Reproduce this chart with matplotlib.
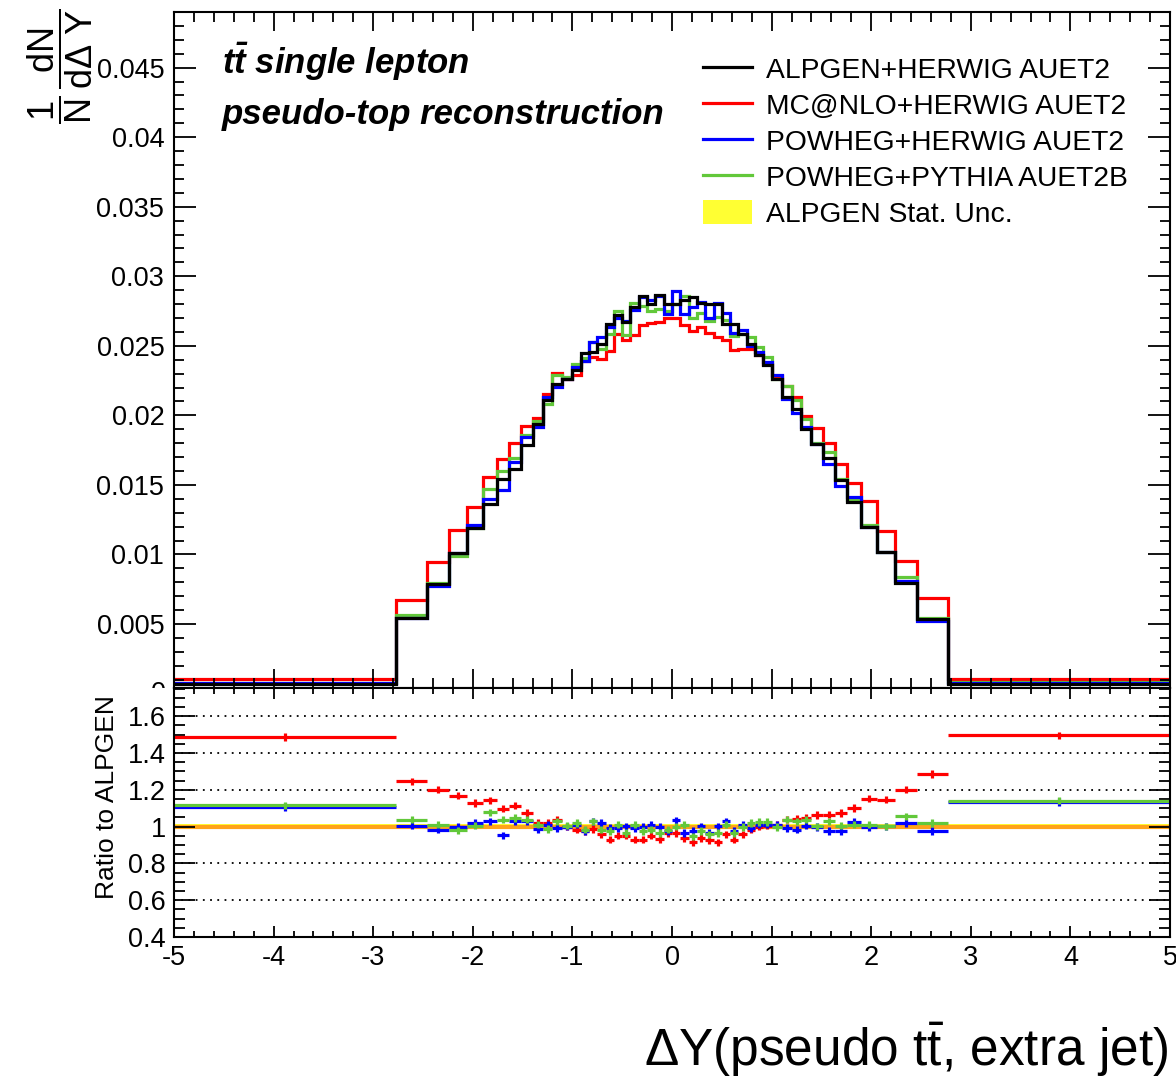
import numpy as np
import matplotlib
matplotlib.use("Agg")
import matplotlib.pyplot as plt
from matplotlib.lines import Line2D
from matplotlib.patches import Patch
from matplotlib.ticker import MultipleLocator, FuncFormatter
from matplotlib.transforms import Bbox, TransformedBbox, blended_transform_factory

plt.rcParams["font.family"] = ["Liberation Sans", "DejaVu Sans"]
plt.rcParams["axes.unicode_minus"] = False
plt.rcParams["mathtext.fontset"] = "custom"
plt.rcParams["mathtext.rm"] = "Liberation Sans"
plt.rcParams["mathtext.it"] = "Liberation Sans:italic"
plt.rcParams["mathtext.bf"] = "Liberation Sans:bold"
HAS_BFIT = "mathtext.bfit" in plt.rcParams
if HAS_BFIT:
    plt.rcParams["mathtext.bfit"] = "Liberation Sans:italic:bold"

# ---------------------------------------------------------------- data
bin_edges = [
    -5.0, -2.77, -2.46, -2.24, -2.06, -1.9, -1.76, -1.64, -1.52, -1.4, -1.3,
    -1.2, -1.1, -1.0, -0.917, -0.833, -0.75, -0.667, -0.583, -0.5, -0.417,
    -0.333, -0.25, -0.167, -0.083, 0.0, 0.083, 0.167, 0.25, 0.333, 0.417,
    0.5, 0.583, 0.667, 0.75, 0.833, 0.917, 1.0, 1.1, 1.2, 1.3, 1.4, 1.52,
    1.64, 1.76, 1.9, 2.06, 2.24, 2.46, 2.77, 5.0,
]

# ALPGEN+HERWIG AUET2, fraction of events per bin
alpgen = [
    0.00070, 0.00541, 0.00787, 0.01008, 0.01187, 0.01362, 0.01539, 0.01618,
    0.01790, 0.01941, 0.02108, 0.02223, 0.02264, 0.02324, 0.02451, 0.02455,
    0.02516, 0.02654, 0.02719, 0.02670, 0.02778, 0.02855, 0.02798, 0.02862,
    0.02798, 0.02798, 0.02827, 0.02850, 0.02807, 0.02798, 0.02800, 0.02659,
    0.02659, 0.02587, 0.02516, 0.02432, 0.02360, 0.02264, 0.02132, 0.02049,
    0.01905, 0.01797, 0.01690, 0.01534, 0.01378, 0.01199, 0.01019, 0.00792,
    0.00534, 0.00070,
]

# ratios to ALPGEN
ratio_mcnlo = [
    1.487, 1.246, 1.201, 1.168, 1.129, 1.143, 1.098, 1.114, 1.074, 1.020,
    1.020, 1.038, 1.000, 0.984, 0.975, 0.987, 0.957, 0.929, 0.951, 0.951,
    0.929, 0.929, 0.951, 0.933, 0.966, 0.966, 0.938, 0.915, 0.938, 0.926,
    0.915, 0.957, 0.929, 0.957, 0.984, 1.000, 1.005, 1.010, 1.038, 1.042,
    1.047, 1.062, 1.065, 1.074, 1.101, 1.152, 1.147, 1.201, 1.286, 1.495,
]
ratio_powheg_herwig = [
    1.107, 1.005, 0.984, 1.000, 1.020, 1.029, 0.953, 1.029, 1.029, 0.987,
    1.011, 0.993, 1.000, 1.011, 0.975, 1.029, 1.020, 0.993, 0.993, 1.002,
    0.993, 0.998, 1.011, 0.998, 0.975, 1.034, 0.966, 0.975, 1.002, 0.966,
    1.002, 1.029, 0.975, 1.011, 0.993, 1.011, 1.011, 1.011, 0.993, 0.984,
    1.005, 0.998, 0.975, 0.975, 1.024, 0.998, 1.002, 1.020, 0.975, 1.134,
]
ratio_powheg_pythia = [
    1.116, 1.038, 1.011, 0.980, 1.005, 1.078, 1.038, 1.047, 1.038, 1.011,
    0.987, 1.029, 1.005, 1.020, 0.984, 1.029, 0.984, 0.975, 1.011, 0.966,
    1.011, 0.975, 0.984, 0.966, 0.984, 1.000, 1.011, 0.947, 0.975, 0.957,
    0.966, 1.011, 0.966, 0.998, 1.020, 1.024, 1.024, 0.998, 1.038, 1.029,
    1.038, 1.002, 1.029, 1.005, 1.011, 1.011, 1.002, 1.056, 1.020, 1.141,
]
ratio_err = 0.02           # statistical error on the ratio points
alpgen_rel_unc = 0.015     # ALPGEN statistical band half-width

labels = [
    "ALPGEN+HERWIG AUET2",
    "MC@NLO+HERWIG AUET2",
    "POWHEG+HERWIG AUET2",
    "POWHEG+PYTHIA AUET2B",
    "ALPGEN Stat. Unc.",
]

# ---------------------------------------------------------------- derived
edges = np.array(bin_edges)
h_alp = np.array(alpgen)
r_mc = np.array(ratio_mcnlo)
r_ph = np.array(ratio_powheg_herwig)
r_pp = np.array(ratio_powheg_pythia)
h_mc = h_alp * r_mc
h_ph = h_alp * r_ph
h_pp = h_alp * r_pp
centers = 0.5 * (edges[:-1] + edges[1:])
halfw = 0.5 * np.diff(edges)
r_alp = h_alp / h_alp

C_BLACK = "#000000"
C_RED = "#ff0000"
C_BLUE = "#0000ff"
C_GREEN = "#62c83a"
C_YELLOW = "#ffff33"
C_ORANGE = "#ffa31a"

# ---------------------------------------------------------------- figure
W, H = 1176, 1080
fig = plt.figure(figsize=(W / 100, H / 100), dpi=100)
L, R = 174, 1170
top_y0, top_y1 = 12, 688
bot_y1 = 937
ax = fig.add_axes([L / W, (H - top_y1) / H, (R - L) / W, (top_y1 - top_y0) / H])
rax = fig.add_axes([L / W, (H - bot_y1) / H, (R - L) / W, (bot_y1 - top_y1) / H])

lw = 2.3
ax.stairs(h_mc, edges, baseline=None, color=C_RED, lw=lw)
ax.stairs(h_pp, edges, baseline=None, color=C_GREEN, lw=lw)
ax.stairs(h_ph, edges, baseline=None, color=C_BLUE, lw=lw)
ax.stairs(h_alp, edges, baseline=None, color=C_BLACK, lw=lw)

TICK_FS = 19.5
ax.set_xlim(-5, 5)
ax.set_ylim(0.0004, 0.049)
fmt = FuncFormatter(lambda v, p: "%g" % round(v, 6))
ax.xaxis.set_major_locator(MultipleLocator(1))
ax.xaxis.set_minor_locator(MultipleLocator(0.2))
ax.yaxis.set_major_locator(MultipleLocator(0.005))
ax.yaxis.set_minor_locator(MultipleLocator(0.001))
ax.yaxis.set_major_formatter(fmt)
ax.tick_params(which="both", direction="in", top=True, right=True,
               labelbottom=False, width=1.3, labelsize=TICK_FS, pad=7)
ax.tick_params(axis="y", which="major", length=16)
ax.tick_params(axis="y", which="minor", length=7)
ax.tick_params(axis="x", which="major", length=14)
ax.tick_params(axis="x", which="minor", length=7)
for s in ax.spines.values():
    s.set_linewidth(1.5)

# the zero label sits on the pad boundary and is half hidden by the lower pad
zero = ax.text(-0.008, 0.0, "0", fontsize=TICK_FS, ha="right", va="center",
               transform=blended_transform_factory(ax.transAxes, ax.transData))
zero.set_clip_box(TransformedBbox(Bbox([[0, (H - top_y1) / H], [1, 1]]),
                                  fig.transFigure))
zero.set_clip_on(True)

# header texts
tt_bold = r"$\mathbfit{t\bar{t}}$" if HAS_BFIT else r"$\mathbf{t\bar{t}}$"
ax.text(0.048, 0.908, tt_bold + " single lepton", transform=ax.transAxes,
        fontsize=25, fontweight="bold", style="italic", va="baseline")
ax.text(0.048, 0.834, "pseudo-top reconstruction", transform=ax.transAxes,
        fontsize=25, fontweight="bold", style="italic", va="baseline")

handles = [
    Line2D([], [], color=C_BLACK, lw=lw),
    Line2D([], [], color=C_RED, lw=lw),
    Line2D([], [], color=C_BLUE, lw=lw),
    Line2D([], [], color=C_GREEN, lw=lw),
    Patch(facecolor=C_YELLOW, edgecolor="none"),
]
ax.legend(handles, labels, loc="upper left", bbox_to_anchor=(0.531, 0.934),
          frameon=False, fontsize=20.3, handlelength=1.75, handleheight=0.9,
          handletextpad=0.5, labelspacing=0.3, borderpad=0, borderaxespad=0)

# ---------------------------------------------------------------- ratio pad
for v in [0.6, 0.8, 1.0, 1.2, 1.4, 1.6]:
    rax.axhline(v, color="k", ls=(0, (1, 3)), lw=1.3, zorder=0.5)

rax.stairs(r_alp + alpgen_rel_unc, edges, baseline=r_alp - alpgen_rel_unc,
           fill=True, color=C_YELLOW, zorder=1)
rax.stairs(r_alp, edges, baseline=None, color=C_ORANGE, lw=3, zorder=1.5)

for r, c in [(r_mc, C_RED), (r_ph, C_BLUE), (r_pp, C_GREEN)]:
    rax.errorbar(centers, r, xerr=halfw, yerr=ratio_err, fmt="none",
                 ecolor=c, elinewidth=2.3, capsize=0, zorder=2)

rax.set_xlim(-5, 5)
rax.set_ylim(0.4, 1.753)
rax.xaxis.set_major_locator(MultipleLocator(1))
rax.xaxis.set_minor_locator(MultipleLocator(0.2))
rax.yaxis.set_major_locator(MultipleLocator(0.2))
rax.yaxis.set_minor_locator(MultipleLocator(0.05))
rax.xaxis.set_major_formatter(fmt)
rax.yaxis.set_major_formatter(fmt)
rax.tick_params(which="both", direction="in", top=True, right=True,
                width=1.3, labelsize=TICK_FS)
rax.tick_params(axis="y", which="major", length=15, pad=6)
rax.tick_params(axis="y", which="minor", length=8)
rax.tick_params(axis="x", which="major", length=8, pad=6)
rax.tick_params(axis="x", which="minor", length=4)
for s in rax.spines.values():
    s.set_linewidth(1.5)

# ---------------------------------------------------------------- axis titles
fig.text(60 / W, 1 - 8 / H, r"$\mathrm{\dfrac{1}{N}\,\dfrac{dN}{d\Delta\ Y}}$",
         rotation=90, ha="center", va="top", fontsize=26)
fig.text(107 / W, (H - 797) / H, "Ratio to ALPGEN", rotation=90,
         ha="center", va="center", fontsize=19)
fig.text(1168 / W, (H - 1050) / H,
         "ΔY(pseudo " + r"$\mathrm{t\bar{t}}$" + ", extra jet)",
         ha="right", va="center", fontsize=37)

fig.savefig("out.png", dpi=100)
